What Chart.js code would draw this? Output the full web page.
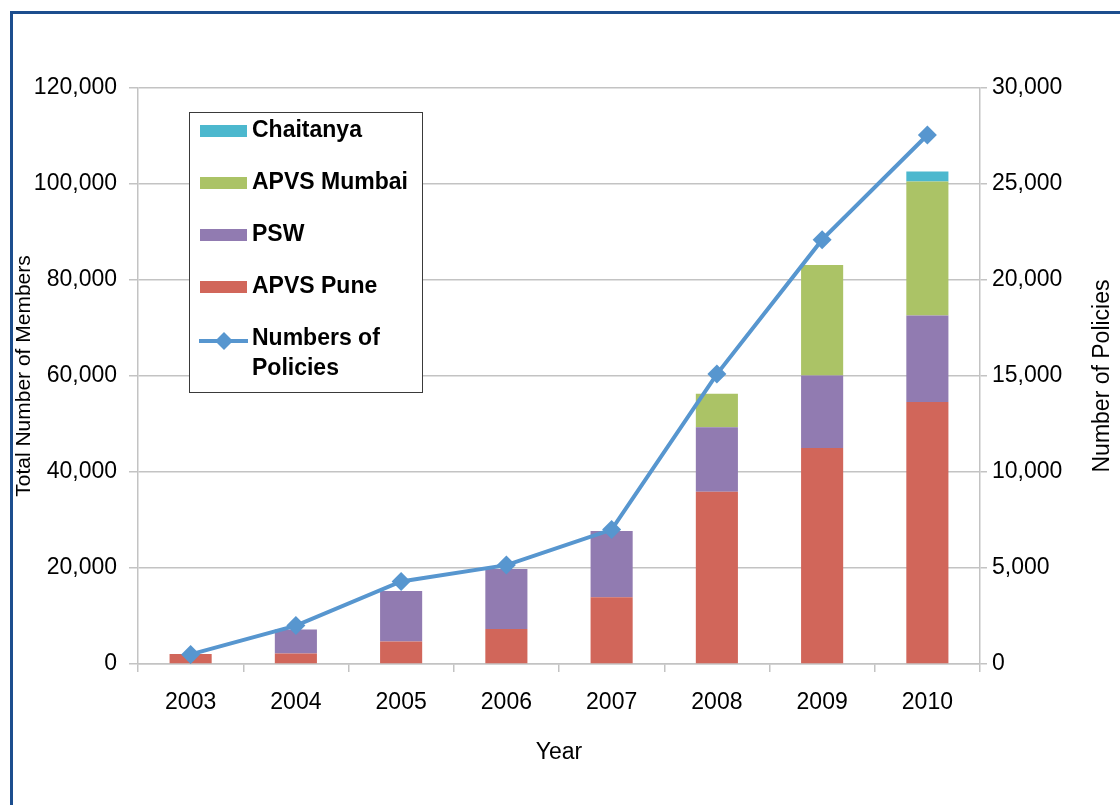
<!DOCTYPE html>
<html>
<head>
<meta charset="utf-8">
<script src="https://cdn.jsdelivr.net/npm/chart.js@4/dist/chart.umd.min.js"></script>
<style>
  html, body { margin: 0; padding: 0; background: #fff; overflow: hidden; }
  #frame { position: absolute; left: 10px; top: 11px; width: 1200px; height: 900px; border: 3px solid #1c4e8e; }
  #wrap { position: absolute; left: 0; top: 0; width: 1120px; height: 805px; }
</style>
</head>
<body>
<div id="frame"></div>
<div id="wrap"><canvas id="myChart" width="1120" height="805"></canvas></div>
<script>
var years = ['2003', '2004', '2005', '2006', '2007', '2008', '2009', '2010'];

// members per scheme (left axis)
var apvsPune   = [2100, 2200, 4700, 7300, 13900, 35900, 45000, 54600];
var psw        = [0, 5000, 10500, 12500, 13800, 13400, 15100, 18000];
var apvsMumbai = [0, 0, 0, 0, 0, 7000, 23000, 27900];
var chaitanya  = [0, 0, 0, 0, 0, 0, 0, 2100];

// policies (right axis)
var policies = [500, 2000, 4300, 5150, 7000, 15100, 22100, 27550];

var rightTitle = 'Number of Policies';

var gridGray = '#c3c3c3';
var font = 'Liberation Sans, Arial, sans-serif';

function commas(v) { return Number(v).toLocaleString('en-US'); }

// right axis title reads bottom-to-top, chart.js only rotates it the other way
var rightAxisTitle = {
  id: 'rightAxisTitle',
  afterDraw: function(chart) {
    var ctx = chart.ctx;
    var s = chart.scales.y2;
    var area = chart.chartArea;
    ctx.save();
    ctx.translate(s.right - 17, (area.top + area.bottom) / 2);
    ctx.rotate(-Math.PI / 2);
    ctx.font = '23px ' + font;
    ctx.fillStyle = '#000';
    ctx.textAlign = 'center';
    ctx.textBaseline = 'middle';
    ctx.fillText(rightTitle, 0, 0);
    ctx.restore();
  }
};

// boxed legend drawn inside the plot area
var legendBox = {
  id: 'legendBox',
  afterDraw: function(chart) {
    var ctx = chart.ctx;
    var area = chart.chartArea;
    var bx = area.left + 51, by = area.top + 24, bw = 233, bh = 280;
    ctx.save();
    ctx.fillStyle = '#fff';
    ctx.fillRect(bx, by, bw, bh);
    ctx.strokeStyle = '#3a3a3a';
    ctx.lineWidth = 1;
    ctx.strokeRect(bx + 0.5, by + 0.5, bw, bh);

    var ds = chart.data.datasets;
    var bars = ds.filter(function(d) { return d.type !== 'line'; }).reverse();
    var lines = ds.filter(function(d) { return d.type === 'line'; });
    var items = bars.concat(lines);

    ctx.font = 'bold 23px ' + font;
    ctx.textBaseline = 'middle';
    ctx.textAlign = 'left';
    var textX = bx + 63, maxW = bw - 63 - 6;
    var y = by + 19;
    items.forEach(function(d) {
      if (d.type === 'line') {
        ctx.strokeStyle = d.borderColor;
        ctx.lineWidth = 4;
        ctx.beginPath();
        ctx.moveTo(bx + 10, y + 2);
        ctx.lineTo(bx + 59, y + 2);
        ctx.stroke();
        ctx.fillStyle = d.borderColor;
        ctx.beginPath();
        ctx.moveTo(bx + 35, y + 2 - 9);
        ctx.lineTo(bx + 44, y + 2);
        ctx.lineTo(bx + 35, y + 2 + 9);
        ctx.lineTo(bx + 26, y + 2);
        ctx.closePath();
        ctx.fill();
      } else {
        ctx.fillStyle = d.backgroundColor;
        ctx.fillRect(bx + 11, y - 6, 47, 12);
      }
      // wrap long labels word by word
      var words = d.label.split(' ');
      var rows = [], cur = '';
      words.forEach(function(w) {
        var test = cur ? cur + ' ' + w : w;
        if (ctx.measureText(test).width > maxW && cur) { rows.push(cur); cur = w; }
        else cur = test;
      });
      rows.push(cur);
      ctx.fillStyle = '#000';
      rows.forEach(function(r, i) { ctx.fillText(r, textX, y + i * 30); });
      y += 52;
    });
    ctx.restore();
  }
};

var ctx = document.getElementById('myChart');
var myChart = new Chart(ctx, {
  type: 'bar',
  data: {
    labels: years,
    datasets: [
      {
        type: 'line',
        label: 'Numbers of Policies',
        data: policies,
        yAxisID: 'y2',
        borderColor: '#5796cf',
        backgroundColor: '#5796cf',
        borderWidth: 4,
        pointStyle: 'rectRot',
        pointRadius: 9.5,
        pointBorderWidth: 0,
        tension: 0,
        order: 0
      },
      { label: 'APVS Pune', data: apvsPune, backgroundColor: '#d1665a', yAxisID: 'y', order: 1 },
      { label: 'PSW', data: psw, backgroundColor: '#917bb1', yAxisID: 'y', order: 1 },
      { label: 'APVS Mumbai', data: apvsMumbai, backgroundColor: '#abc366', yAxisID: 'y', order: 1 },
      { label: 'Chaitanya', data: chaitanya, backgroundColor: '#4cb8ce', yAxisID: 'y', order: 1 }
    ]
  },
  options: {
    responsive: false,
    animation: false,
    maintainAspectRatio: false,
    categoryPercentage: 1.0,
    barPercentage: 0.4,
    layout: { padding: { top: 88, left: 0, right: 0, bottom: 0 } },
    plugins: {
      legend: { display: false },
      tooltip: { enabled: false }
    },
    scales: {
      x: {
        stacked: true,
        offset: true,
        grid: { offset: true, drawOnChartArea: false, drawTicks: true, tickLength: 8, color: gridGray, lineWidth: 1.5 },
        border: { color: gridGray, width: 1.5 },
        ticks: { color: '#000', font: { family: font, size: 23 }, padding: 17, maxRotation: 0 },
        title: { display: true, text: 'Year', color: '#000', font: { family: font, size: 23 }, padding: { top: 0, bottom: 39 } },
        afterFit: function(s) { s.height = 141; }
      },
      y: {
        stacked: true,
        position: 'left',
        min: 0,
        max: 120000,
        ticks: { stepSize: 20000, color: '#000', font: { family: font, size: 23 }, padding: 12, callback: commas },
        grid: { color: gridGray, lineWidth: 1.5, tickLength: 9 },
        border: { color: gridGray, width: 1.5 },
        title: { display: true, text: 'Total Number of Members', color: '#000', font: { family: font, size: 21 }, padding: { top: 12, bottom: 0 } },
        afterFit: function(s) { s.width = 138; }
      },
      y2: {
        position: 'right',
        min: 0,
        max: 30000,
        ticks: { stepSize: 5000, color: '#000', font: { family: font, size: 23 }, padding: 5, callback: commas },
        grid: { drawOnChartArea: false, color: gridGray, lineWidth: 1.5, tickLength: 7 },
        border: { color: gridGray, width: 1.5 },
        afterFit: function(s) { s.width = 140; }
      }
    }
  },
  plugins: [legendBox, rightAxisTitle]
});
</script>
</body>
</html>
